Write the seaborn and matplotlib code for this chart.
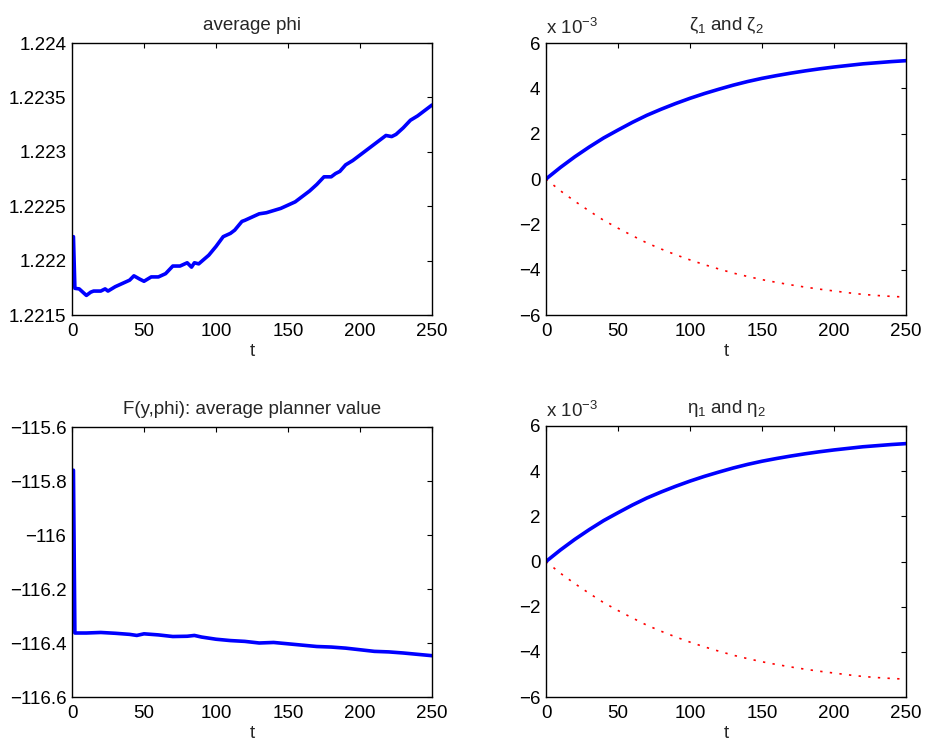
import matplotlib
matplotlib.use("Agg")
import matplotlib.pyplot as plt
import seaborn as sns
import pandas as pd
from matplotlib.ticker import FuncFormatter, FixedLocator

# ---------------- data ----------------
phi_t = [1, 2, 5, 10, 13, 15, 20, 23, 25, 30, 35, 40, 43, 47, 50, 55, 60, 65, 70, 75,
         80, 83, 85, 88, 95, 100, 105, 110, 113, 118, 120, 125, 130, 135, 140, 145,
         150, 155, 160, 165, 170, 175, 180, 183, 186, 190, 195, 200, 205, 210, 215,
         218, 222, 225, 230, 235, 240, 245, 250]
phi_avg = [1.22222, 1.221745, 1.22174, 1.22168, 1.22171, 1.22172, 1.22172, 1.22174,
           1.22172, 1.22176, 1.22179, 1.22182, 1.22186, 1.22183, 1.22181, 1.22185,
           1.22185, 1.22188, 1.22195, 1.22195, 1.22198, 1.22194, 1.22198, 1.22197,
           1.22205, 1.22213, 1.22222, 1.22225, 1.22228, 1.22236, 1.22237, 1.22240,
           1.22243, 1.22244, 1.22246, 1.22248, 1.22251, 1.22254, 1.22259, 1.22264,
           1.22270, 1.22277, 1.22277, 1.22280, 1.22282, 1.22288, 1.22292, 1.22297,
           1.22302, 1.22307, 1.22312, 1.22315, 1.22314, 1.22316, 1.22322, 1.22329,
           1.22333, 1.22338, 1.22343]

f_t = [1, 2, 10, 20, 30, 40, 45, 50, 60, 70, 80, 85, 90, 100, 110, 120, 130, 140,
       150, 160, 170, 180, 190, 200, 210, 220, 230, 240, 250]
f_val = [-115.76, -116.363, -116.363, -116.361, -116.364, -116.368, -116.372, -116.366,
         -116.370, -116.376, -116.375, -116.372, -116.378, -116.386, -116.391, -116.394,
         -116.400, -116.398, -116.403, -116.408, -116.413, -116.415, -116.419, -116.425,
         -116.431, -116.433, -116.437, -116.442, -116.447]

z_t = [0, 10, 20, 30, 40, 50, 60, 70, 80, 90, 100, 110, 120, 130, 140, 150, 160, 170,
       180, 190, 200, 210, 220, 230, 240, 250]
zeta1 = [0.0, 0.51e-3, 0.98e-3, 1.41e-3, 1.81e-3, 2.16e-3, 2.50e-3, 2.81e-3, 3.08e-3,
         3.33e-3, 3.56e-3, 3.77e-3, 3.96e-3, 4.14e-3, 4.30e-3, 4.44e-3, 4.56e-3,
         4.67e-3, 4.77e-3, 4.86e-3, 4.94e-3, 5.01e-3, 5.08e-3, 5.13e-3, 5.18e-3, 5.22e-3]
zeta2 = [0.0, -0.52e-3, -0.98e-3, -1.41e-3, -1.82e-3, -2.17e-3, -2.50e-3, -2.82e-3,
         -3.09e-3, -3.34e-3, -3.57e-3, -3.78e-3, -3.97e-3, -4.15e-3, -4.30e-3, -4.44e-3,
         -4.56e-3, -4.67e-3, -4.77e-3, -4.86e-3, -4.94e-3, -5.02e-3, -5.09e-3, -5.14e-3,
         -5.18e-3, -5.21e-3]
eta1 = list(zeta1)
eta2 = list(zeta2)

x_ticks = [0, 50, 100, 150, 200, 250]
phi_ticks = [1.2215, 1.222, 1.2225, 1.223, 1.2235, 1.224]
f_ticks = [-116.6, -116.4, -116.2, -116.0, -115.8, -115.6]
z_ticks = [-6e-3, -4e-3, -2e-3, 0.0, 2e-3, 4e-3, 6e-3]

# ---------------- style ----------------
sns.set_style("white")
plt.rcParams["font.family"] = ["Liberation Sans", "DejaVu Sans"]
plt.rcParams["mathtext.fontset"] = "custom"
plt.rcParams["mathtext.rm"] = "Liberation Sans"
plt.rcParams["mathtext.it"] = "Liberation Sans"
plt.rcParams["axes.unicode_minus"] = True

FS = 13.5
fig = plt.figure(figsize=(9.25, 7.47), dpi=100)

W, H = 925.0, 747.0
def pos(l, r, t, b):
    return [l / W, 1 - b / H, (r - l) / W, (b - t) / H]

ax1 = fig.add_axes(pos(72, 432, 43, 315))
ax2 = fig.add_axes(pos(546, 906, 43, 315))
ax3 = fig.add_axes(pos(72, 432, 427, 697))
ax4 = fig.add_axes(pos(546, 906, 426, 697))

def fmt_g(v, p):
    s = "%g" % round(v, 6)
    return s.replace("-", "\u2212")

def fmt_e3(v, p):
    s = "%g" % round(v * 1e3, 6)
    return s.replace("-", "\u2212")

BLUE = "#0000ff"
RED = "#ff0000"
LW = 2.6

def style(ax, title, yticks, formatter, ylim):
    ax.set_xlim(0, 250)
    ax.set_ylim(*ylim)
    ax.xaxis.set_major_locator(FixedLocator(x_ticks))
    ax.yaxis.set_major_locator(FixedLocator(yticks))
    ax.yaxis.set_major_formatter(FuncFormatter(formatter))
    ax.xaxis.set_major_formatter(FuncFormatter(fmt_g))
    ax.tick_params(direction="in", top=True, right=True, length=3.5, width=0.8,
                   labelsize=FS, colors="black")
    ax.tick_params(axis="x", pad=6)
    ax.tick_params(axis="y", pad=4)
    for s in ax.spines.values():
        s.set_visible(True)
        s.set_color("black")
        s.set_linewidth(1.0)
    ax.set_xlabel("t", fontsize=FS, labelpad=2)
    ax.set_ylabel("")
    ax.set_title(title, fontsize=FS, pad=9)
    leg = ax.get_legend()
    if leg is not None:
        leg.remove()

# panel 1
sns.lineplot(x=phi_t, y=phi_avg, ax=ax1, color=BLUE, linewidth=LW)
style(ax1, "average phi", phi_ticks, fmt_g, (1.2215, 1.224))

# panel 3
sns.lineplot(x=f_t, y=f_val, ax=ax3, color=BLUE, linewidth=LW)
style(ax3, "F(y,phi): average planner value", f_ticks, fmt_g, (-116.6, -115.6))

# panels 2 and 4
for ax, a, b, title in [(ax2, zeta1, zeta2, r"$\zeta_1$ and $\zeta_2$"),
                        (ax4, eta1, eta2, r"$\eta_1$ and $\eta_2$")]:
    sns.lineplot(x=z_t, y=b, ax=ax, color=RED, linewidth=1.2,
                 linestyle=(0, (1.4, 4.4)))
    sns.lineplot(x=z_t, y=a, ax=ax, color=BLUE, linewidth=LW)
    style(ax, title, z_ticks, fmt_e3, (-6e-3, 6e-3))
    ax.text(0.0, 1.02, r"x 10$^{-3}$", transform=ax.transAxes,
            fontsize=FS, ha="left", va="bottom")

fig.savefig("out.png", dpi=100)
